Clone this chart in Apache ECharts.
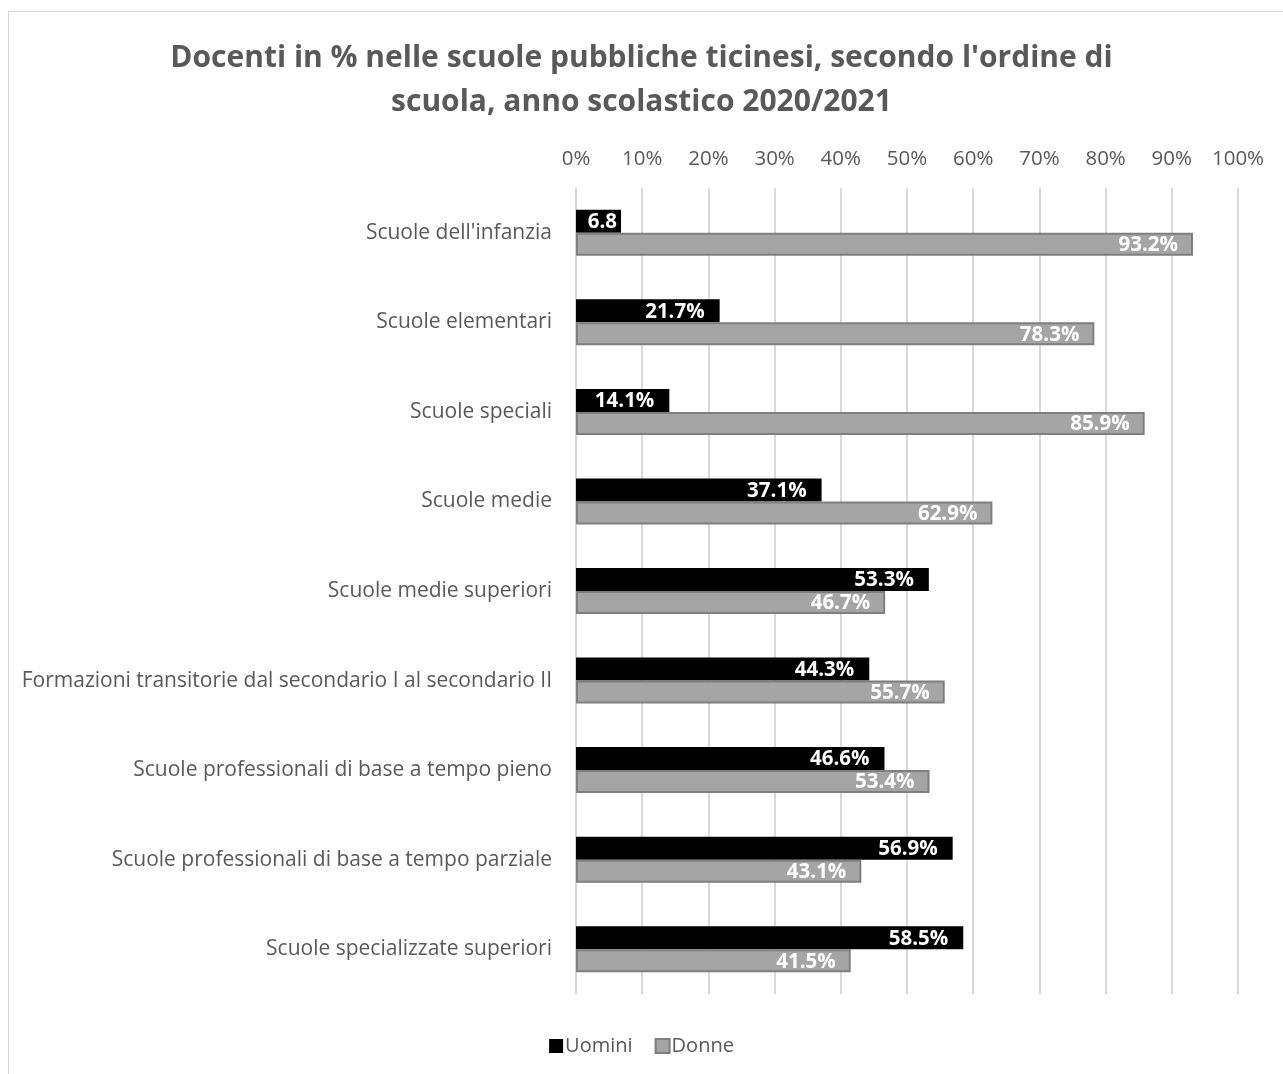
<!DOCTYPE html>
<html><head><meta charset="utf-8">
<script src="https://cdn.jsdelivr.net/npm/echarts@6/dist/echarts.min.js"></script>
<style>
html,body{margin:0;padding:0;background:#fff;}
#frame{position:absolute;left:8px;top:11px;width:1300px;height:1100px;border-left:1px solid #d9d9d9;border-top:1px solid #d9d9d9;box-sizing:border-box;}
#c{position:absolute;left:0;top:0;width:1283px;height:1074px;}
</style></head>
<body>
<div id="frame"></div>
<div id="c"></div>
<script>
const categories = [
  "Scuole dell'infanzia",
  "Scuole elementari",
  "Scuole speciali",
  "Scuole medie",
  "Scuole medie superiori",
  "Formazioni transitorie dal secondario I al secondario II",
  "Scuole professionali di base a tempo pieno",
  "Scuole professionali di base a tempo parziale",
  "Scuole specializzate superiori"
];
const uomini = [6.8, 21.7, 14.1, 37.1, 53.3, 44.3, 46.6, 56.9, 58.5];
const donne = [93.2, 78.3, 85.9, 62.9, 46.7, 55.7, 53.4, 43.1, 41.5];
const titleText = "Docenti in % nelle scuole pubbliche ticinesi, secondo l'ordine di\nscuola, anno scolastico 2020/2021";

const FONT = "'Open Sans', sans-serif";
const chart = echarts.init(document.getElementById('c'), null, {renderer: 'canvas'});
function fmt(p){
  // the shortest bar's label is clipped in the original (no % sign)
  return p.value < 10 ? p.value.toFixed(1) : p.value.toFixed(1) + '%';
}
function toItems(arr){
  return arr.map(v => v < 10 ? {value: v, label: {distance: 4}} : v);
}
chart.setOption({
  animation: false,
  title: {
    text: titleText,
    left: 'center', top: 31,
    textStyle: {fontFamily: FONT, fontSize: 30, fontWeight: 'bold', color: '#595959', lineHeight: 44}
  },
  legend: {
    bottom: 13, left: 'center',
    icon: 'rect',
    itemWidth: 14, itemHeight: 14, itemGap: 22,
    textStyle: {fontFamily: FONT, fontSize: 20, color: '#595959', padding: [0,0,0,-3]},
    data: ['Uomini', 'Donne']
  },
  grid: {left: 576, right: 45, top: 188, bottom: 80},
  xAxis: {
    type: 'value', position: 'top', min: 0, max: 100, interval: 10,
    axisLabel: {formatter: '{value}%', fontFamily: FONT, fontSize: 20.5, color: '#595959', margin: 18},
    axisLine: {show: false}, axisTick: {show: false},
    splitLine: {lineStyle: {color: '#d9d9d9', width: 2}}
  },
  yAxis: {
    type: 'category', inverse: true, data: categories,
    axisLine: {show: false}, axisTick: {show: false},
    axisLabel: {fontFamily: FONT, fontSize: 21, color: '#595959', margin: 24}
  },
  series: [
    {
      name: 'Uomini', type: 'bar', data: toItems(uomini), barWidth: 23, barGap: '0%',
      itemStyle: {color: '#000000'},
      label: {show: true, position: 'insideRight', formatter: fmt, color: '#ffffff',
        fontFamily: FONT, fontWeight: 'bold', fontSize: 20.5, distance: 15, offset: [0, 1]}
    },
    {
      name: 'Donne', type: 'bar', data: toItems(donne), barWidth: 23,
      itemStyle: {color: '#a5a5a5', borderColor: '#7f7f7f', borderWidth: 2},
      label: {show: true, position: 'insideRight', formatter: fmt, color: '#ffffff',
        fontFamily: FONT, fontWeight: 'bold', fontSize: 20.5, distance: 15, offset: [0, 1]}
    }
  ]
});
</script>
</body></html>
